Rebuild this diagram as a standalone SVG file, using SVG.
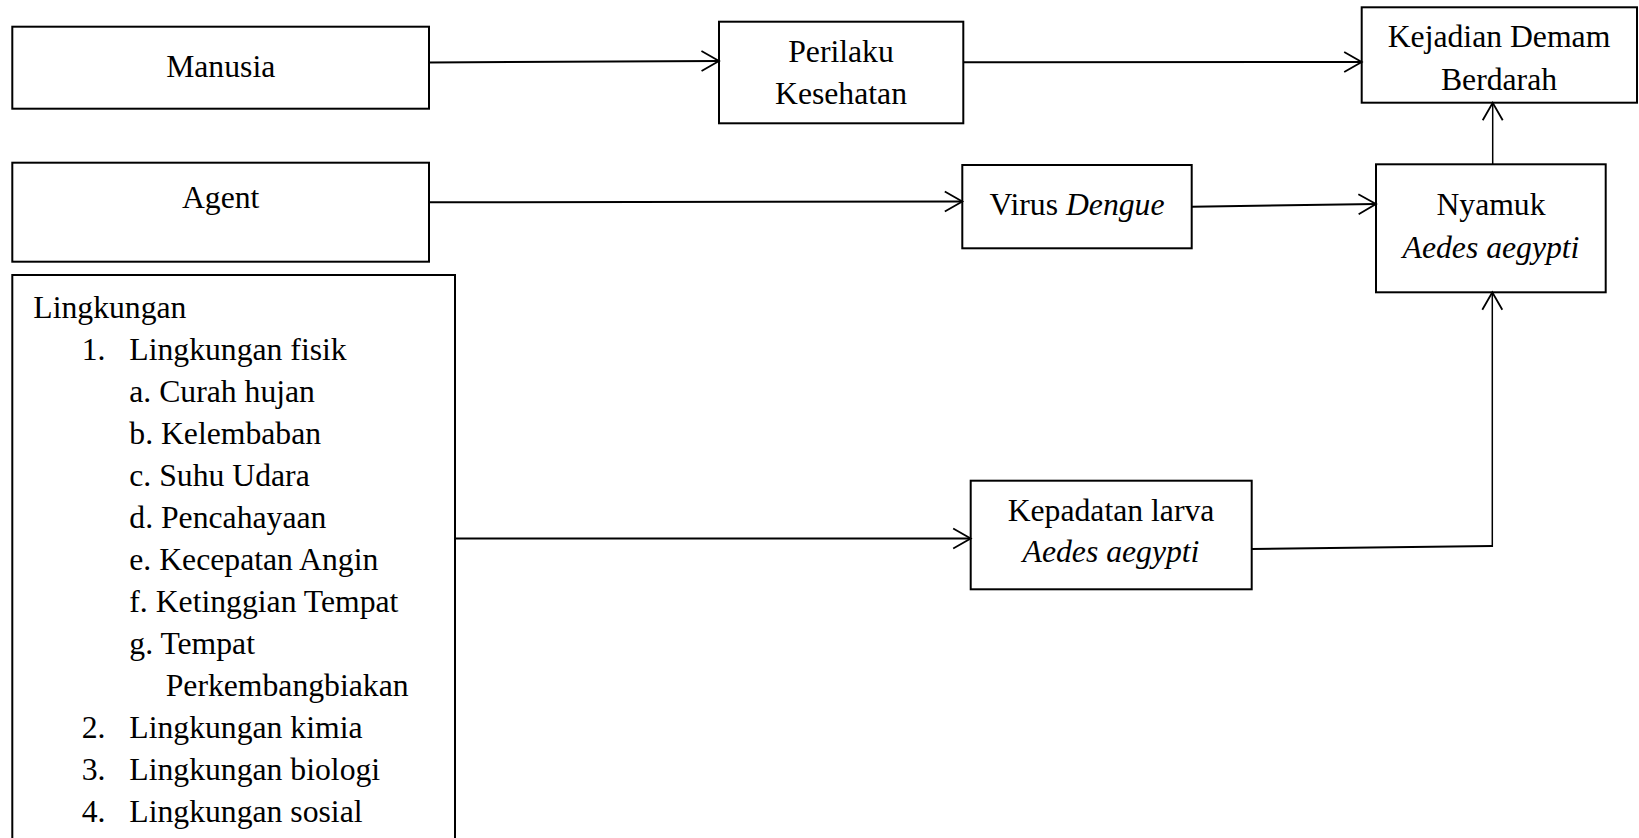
<svg xmlns="http://www.w3.org/2000/svg" width="1639" height="838" viewBox="0 0 1639 838">
<style>
.box{fill:#fff;stroke:#000;stroke-width:2}
.t{font-family:"Liberation Serif","Times New Roman",serif;font-size:31.7px;fill:#000}
.c{text-anchor:middle}
.i{font-style:italic}
.con{fill:none;stroke:#000;stroke-width:2}
.v{stroke-width:1.5}
</style>
<defs>
<marker id="arr" markerUnits="userSpaceOnUse" markerWidth="22" markerHeight="24" refX="19" refY="12" orient="auto">
<path d="M1.5,2 L19,12 L1.5,22" fill="none" stroke="#000" stroke-width="1.8"/>
</marker>
</defs>
<rect width="1639" height="838" fill="#fff"/>
<g id="manusia">
<rect class="box" x="12.3" y="26.7" width="416.7" height="82"/>
<text class="t c" x="220.7" y="77">Manusia</text>
</g>
<g id="agent">
<rect class="box" x="12.3" y="162.7" width="416.7" height="99"/>
<text class="t c" x="220.7" y="208">Agent</text>
</g>
<g id="lingkungan">
<rect class="box" x="12.3" y="275" width="442.7" height="600"/>
<text class="t" x="33.3" y="318">Lingkungan</text>
<text class="t" x="81.7" y="360">1.</text>
<text class="t" x="129.3" y="360">Lingkungan fisik</text>
<text class="t" x="129.3" y="402">a. Curah hujan</text>
<text class="t" x="129.3" y="444">b. Kelembaban</text>
<text class="t" x="129.3" y="486">c. Suhu Udara</text>
<text class="t" x="129.3" y="528">d. Pencahayaan</text>
<text class="t" x="129.3" y="570">e. Kecepatan Angin</text>
<text class="t" x="129.3" y="612">f. Ketinggian Tempat</text>
<text class="t" x="129.3" y="654">g. Tempat</text>
<text class="t" x="165.7" y="696">Perkembangbiakan</text>
<text class="t" x="81.7" y="738">2.</text>
<text class="t" x="129.3" y="738">Lingkungan kimia</text>
<text class="t" x="81.7" y="780">3.</text>
<text class="t" x="129.3" y="780">Lingkungan biologi</text>
<text class="t" x="81.7" y="822">4.</text>
<text class="t" x="129.3" y="822">Lingkungan sosial</text>
</g>
<g id="perilaku">
<rect class="box" x="719" y="21.7" width="244.3" height="101.6"/>
<text class="t c" x="841" y="61.7">Perilaku</text>
<text class="t c" x="841" y="104">Kesehatan</text>
</g>
<g id="kejadian">
<rect class="box" x="1361.7" y="7.3" width="275.3" height="95.4"/>
<text class="t c" x="1499" y="46.7">Kejadian Demam</text>
<text class="t c" x="1499" y="90">Berdarah</text>
</g>
<g id="virus">
<rect class="box" x="962.3" y="165" width="229.4" height="83.3"/>
<text class="t c" x="1077" y="215">Virus <tspan class="i">Dengue</tspan></text>
</g>
<g id="nyamuk">
<rect class="box" x="1376" y="164.3" width="229.7" height="128"/>
<text class="t c" x="1491" y="215">Nyamuk</text>
<text class="t c i" x="1491" y="258.3">Aedes aegypti</text>
</g>
<g id="kepadatan">
<rect class="box" x="970.7" y="480.7" width="281" height="108.6"/>
<text class="t c" x="1111" y="521">Kepadatan larva</text>
<text class="t c i" x="1111" y="561.7">Aedes aegypti</text>
</g>
<g id="connectors">
<path class="con" d="M429,62.5 L719,61" marker-end="url(#arr)"/>
<path class="con" d="M963.3,62.3 L1361.7,62" marker-end="url(#arr)"/>
<path class="con" d="M429,202.3 L962.3,201.5" marker-end="url(#arr)"/>
<path class="con" d="M1191.7,206.7 L1376,204" marker-end="url(#arr)"/>
<path class="con v" d="M1492.7,164.3 L1492.7,102.7" marker-end="url(#arr)"/>
<path class="con" d="M455,538.5 L970.7,538.5" marker-end="url(#arr)"/>
<path class="con" d="M1251.7,549 L1492.3,546"/>
<path class="con v" d="M1492.3,547 L1492.3,292.3" marker-end="url(#arr)"/>
</g>
</svg>
